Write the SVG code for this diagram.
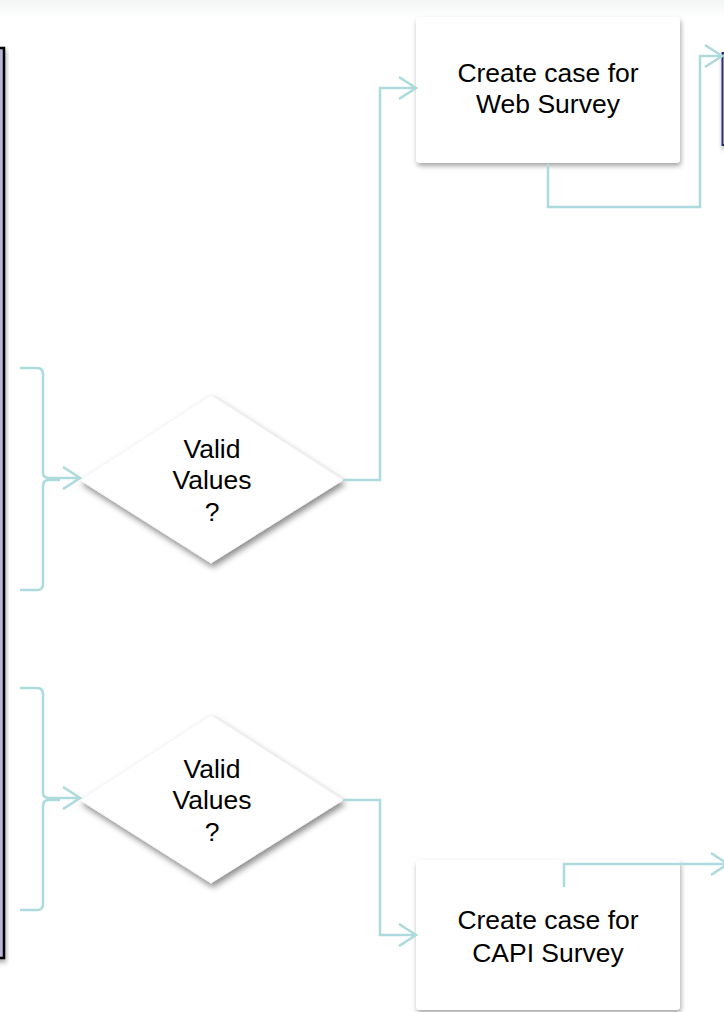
<svg xmlns="http://www.w3.org/2000/svg" width="724" height="1012" viewBox="0 0 724 1012">
<defs>
<filter id="sh" x="-20%" y="-20%" width="140%" height="140%">
<feDropShadow dx="1" dy="3" stdDeviation="2.5" flood-color="#000" flood-opacity="0.35"/>
</filter>
<filter id="shd" x="-20%" y="-20%" width="140%" height="140%">
<feDropShadow dx="2" dy="4" stdDeviation="3" flood-color="#000" flood-opacity="0.45"/>
</filter>
<linearGradient id="top" x1="0" y1="0" x2="0" y2="1">
<stop offset="0" stop-color="#f3f5f5"/>
<stop offset="1" stop-color="#ffffff"/>
</linearGradient>
<marker id="arr" viewBox="0 0 20 24" refX="18" refY="12" markerWidth="20" markerHeight="24" markerUnits="userSpaceOnUse" orient="auto">
<path d="M1,1 L18,12 L1,23" fill="none" stroke="#acdadd" stroke-width="2.5"/>
</marker>
<style>
.lbl{font-family:"Liberation Sans",Arial,sans-serif;font-size:26.5px;fill:#000;text-anchor:middle}
.con{fill:none;stroke:#acdadd;stroke-width:2.5}
.box{fill:#fff;filter:url(#sh)}
.dia{fill:#fff;stroke:#f3f3f3;stroke-width:1;filter:url(#shd)}
</style>
</defs>
<rect x="0" y="0" width="724" height="1012" fill="#fff"/>
<rect x="0" y="0" width="724" height="18" fill="url(#top)"/>

<g id="left-panel">
<rect x="-20" y="48" width="24" height="910" fill="#b7b7d6" stroke="#000" stroke-width="2.5" filter="url(#sh)"/>
</g>

<g id="topright-box">
<rect x="722.5" y="53" width="20" height="92" fill="#f6f6f9" stroke="#2b2f7a" stroke-width="2" filter="url(#sh)"/>
</g>

<g id="web-box">
<rect class="box" x="416" y="17" width="264" height="146" rx="4"/>
<text class="lbl" x="548" y="82">Create case for</text>
<text class="lbl" x="548" y="113">Web Survey</text>
</g>

<g id="capi-box">
<rect class="box" x="416" y="860" width="264" height="150" rx="4"/>
<text class="lbl" x="548" y="929">Create case for</text>
<text class="lbl" x="548" y="962">CAPI Survey</text>
</g>

<g id="diamond1">
<polygon class="dia" points="211,395 343,480 211,563 80,480"/>
<text class="lbl" x="212" y="458">Valid</text>
<text class="lbl" x="212" y="489">Values</text>
<text class="lbl" x="212" y="521">?</text>
</g>

<g id="diamond2">
<polygon class="dia" points="211,715 343,800 211,883 80,800"/>
<text class="lbl" x="212" y="778">Valid</text>
<text class="lbl" x="212" y="809">Values</text>
<text class="lbl" x="212" y="841">?</text>
</g>

<g id="connectors">
<path class="con" d="M20,368 H37 Q43,368 43,374 V473 Q43,478 49,478 H80" marker-end="url(#arr)"/>
<path class="con" d="M20,590 H37 Q43,590 43,584 V486 Q43,480 49,480 H60"/>
<path class="con" d="M20,688 H37 Q43,688 43,694 V793 Q43,798 49,798 H80" marker-end="url(#arr)"/>
<path class="con" d="M20,910 H37 Q43,910 43,904 V806 Q43,800 49,800 H60"/>
<path class="con" d="M343,480 H380 V88 H416" marker-end="url(#arr)"/>
<path class="con" d="M548,164 V207 H700 V56 H722" marker-end="url(#arr)"/>
<path class="con" d="M343,800 H380 V935 H416" marker-end="url(#arr)"/>
<path class="con" d="M564,887 V864 H728" marker-end="url(#arr)"/>
</g>
</svg>
